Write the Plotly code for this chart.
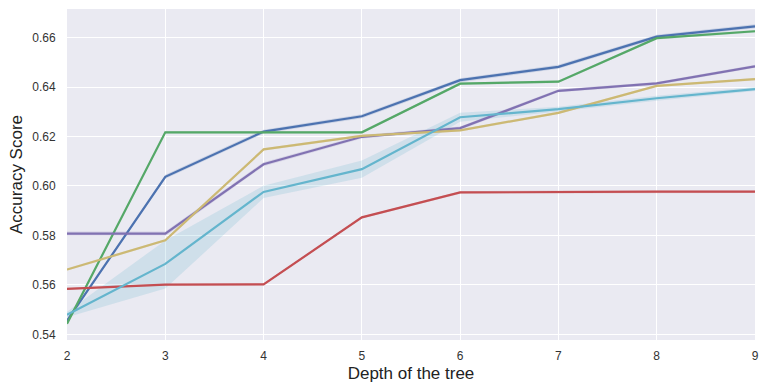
import plotly.graph_objects as go

# Tree depth values on the x axis
depths = [2, 3, 4, 5, 6, 7, 8, 9]

# Mean accuracy per configuration
acc_blue = [0.5455, 0.6037, 0.6220, 0.6282, 0.6428, 0.6482, 0.6604, 0.6646]
acc_green = [0.5443, 0.6217, 0.6217, 0.6217, 0.6414, 0.6422, 0.6598, 0.6626]
acc_red = [0.5584, 0.5601, 0.5602, 0.5873, 0.5974, 0.5977, 0.5977, 0.5977]
acc_purple = [0.5807, 0.5807, 0.6088, 0.6199, 0.6234, 0.6385, 0.6415, 0.6484]
acc_yellow = [0.5662, 0.5780, 0.6148, 0.6203, 0.6225, 0.6296, 0.6405, 0.6432]
acc_cyan = [0.5479, 0.5685, 0.5976, 0.6068, 0.6278, 0.6311, 0.6355, 0.6392]

# Confidence band half-widths
ci_blue = [0.0006, 0.0008, 0.0008, 0.0008, 0.0008, 0.0008, 0.0008, 0.0008]
ci_green = [0.0005, 0.0005, 0.0005, 0.0005, 0.0005, 0.0005, 0.0005, 0.0005]
ci_red = [0.0004, 0.0004, 0.0004, 0.0004, 0.0005, 0.0005, 0.0005, 0.0005]
ci_purple = [0.0009, 0.0009, 0.0008, 0.0007, 0.0007, 0.0006, 0.0006, 0.0006]
ci_yellow = [0.0005, 0.0005, 0.0005, 0.0005, 0.0005, 0.0005, 0.0005, 0.0005]
ci_cyan_lo = [0.0010, 0.0100, 0.0025, 0.0035, 0.0018, 0.0010, 0.0010, 0.0008]
ci_cyan_hi = [0.0012, 0.0095, 0.0025, 0.0035, 0.0018, 0.0010, 0.0010, 0.0008]

series = [
    (acc_blue, ci_blue, ci_blue, "#4C72B0", "76,114,176"),
    (acc_green, ci_green, ci_green, "#55A868", "85,168,104"),
    (acc_red, ci_red, ci_red, "#C44E52", "196,78,82"),
    (acc_purple, ci_purple, ci_purple, "#8172B2", "129,114,178"),
    (acc_yellow, ci_yellow, ci_yellow, "#CCB974", "204,185,116"),
    (acc_cyan, ci_cyan_lo, ci_cyan_hi, "#64B5CD", "100,181,205"),
]

fig = go.Figure()

for vals, lo, hi, color, rgb in series:
    upper = [v + h for v, h in zip(vals, hi)]
    lower = [v - l for v, l in zip(vals, lo)]
    fig.add_trace(go.Scatter(
        x=depths + depths[::-1],
        y=upper + lower[::-1],
        mode="lines",
        fill="toself",
        fillcolor=f"rgba({rgb},0.2)",
        line=dict(width=0),
        hoverinfo="skip",
        showlegend=False,
    ))

for vals, lo, hi, color, rgb in series:
    fig.add_trace(go.Scatter(
        x=depths, y=vals, mode="lines",
        line=dict(color=color, width=2.2),
        showlegend=False,
    ))

font_family = "Liberation Sans, Arial, sans-serif"

fig.update_layout(
    width=760, height=383,
    margin=dict(l=67, r=1, t=9, b=43),
    paper_bgcolor="white",
    plot_bgcolor="#EAEAF2",
    font=dict(family=font_family, color="#333333", size=12),
    xaxis=dict(
        range=[1.9999, 9.0001], tickvals=depths, showgrid=True, gridcolor="white",
        gridwidth=1.2, zeroline=False, showline=False,
        ticks="outside", ticklen=5, tickcolor="rgba(0,0,0,0)",
        ticklabeloverflow="allow",
        tickfont=dict(size=12, color="#333333"),
        title=dict(text="Depth of the tree", font=dict(size=17, color="#222222"), standoff=4),
    ),
    yaxis=dict(
        range=[0.5377, 0.6716], tickvals=[0.54, 0.56, 0.58, 0.60, 0.62, 0.64, 0.66],
        tickformat=".2f", showgrid=True, gridcolor="white", gridwidth=1.2,
        zeroline=False, showline=False,
        ticks="outside", ticklen=8, tickcolor="rgba(0,0,0,0)",
        tickfont=dict(size=12, color="#333333"),
        title=dict(text="Accuracy Score", font=dict(size=17, color="#222222"), standoff=5),
    ),
)

fig.write_html("out.html")
